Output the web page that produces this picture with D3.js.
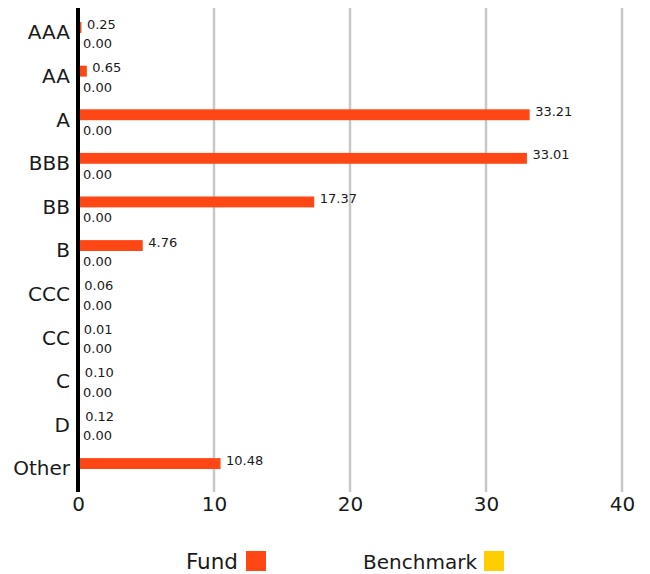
<!DOCTYPE html>
<html>
<head>
<meta charset="utf-8">
<script src="https://cdn.jsdelivr.net/npm/d3@7"></script>
<style>
  body { margin: 0; background: #fff; }
  text { font-family: "DejaVu Sans", sans-serif; fill: #1a1a1a; }
</style>
</head>
<body>
<div id="plot"></div>
<script>
var ratings = ["AAA", "AA", "A", "BBB", "BB", "B", "CCC", "CC", "C", "D", "Other"];
var fund = [0.25, 0.65, 33.21, 33.01, 17.37, 4.76, 0.06, 0.01, 0.10, 0.12, 10.48];
var benchmark = [0, 0, 0, 0, 0, 0, 0, 0, 0, 0, null];
var xTicks = [0, 10, 20, 30, 40];

const w = 650;
const h = 574;
const fundColor = "#ff4716";
const benchColor = "#ffce00";
const font = "'DejaVu Sans', sans-serif";

const rows = ratings.map((r, i) => ({ rating: r, fund: fund[i], benchmark: benchmark[i] }));
const benchRows = rows.filter(d => d.benchmark !== null);

const svg = d3.select("div#plot")
  .append("svg")
  .attr("width", w)
  .attr("height", h);

const xScale = d3.scaleLinear().domain([0, 40]).range([78, 622]);
const yScale = d3.scaleBand()
  .domain(ratings)
  .range([11.2, 490.8])
  .paddingInner(0.5)
  .paddingOuter(0.25);
const bh = yScale.bandwidth() / 2;

// grid lines
svg.append("g")
  .selectAll("line")
  .data(xTicks.slice(1))
  .enter()
  .append("line")
  .attr("x1", d => xScale(d))
  .attr("x2", d => xScale(d))
  .attr("y1", 8)
  .attr("y2", 492)
  .attr("stroke", "#c8c8c8")
  .attr("stroke-width", 2.5);

// x axis labels
const xAxis = d3.axisBottom(xScale).tickValues(xTicks).tickSize(0).tickPadding(5);
const xg = svg.append("g")
  .attr("transform", "translate(0, 492)")
  .call(xAxis);
xg.select(".domain").remove();
xg.selectAll("text")
  .style("font-size", "20px")
  .style("font-family", font)
  .attr("fill", "#1a1a1a");

// y axis labels
const yAxis = d3.axisLeft(yScale).tickSize(0).tickPadding(8);
const yg = svg.append("g")
  .attr("transform", "translate(78, 0)")
  .call(yAxis);
yg.select(".domain").remove();
yg.selectAll("text")
  .style("font-size", "20px")
  .style("font-family", font)
  .attr("fill", "#1a1a1a");

// bars
svg.selectAll(".fund-bar")
  .data(rows)
  .enter()
  .append("rect")
  .attr("class", "fund-bar")
  .attr("x", xScale(0))
  .attr("y", d => yScale(d.rating))
  .attr("width", d => xScale(d.fund) - xScale(0))
  .attr("height", bh)
  .attr("fill", fundColor);

svg.selectAll(".bench-bar")
  .data(benchRows)
  .enter()
  .append("rect")
  .attr("class", "bench-bar")
  .attr("x", xScale(0))
  .attr("y", d => yScale(d.rating) + bh)
  .attr("width", d => xScale(d.benchmark) - xScale(0))
  .attr("height", bh)
  .attr("fill", benchColor);

// value labels
svg.selectAll(".fund-label")
  .data(rows)
  .enter()
  .append("text")
  .attr("class", "fund-label")
  .attr("x", d => xScale(d.fund) + 5.5)
  .attr("y", d => yScale(d.rating) + bh / 2 + 1)
  .style("font-size", "13px")
  .text(d => d.fund.toFixed(2));

svg.selectAll(".bench-label")
  .data(benchRows)
  .enter()
  .append("text")
  .attr("class", "bench-label")
  .attr("x", d => xScale(d.benchmark) + 5)
  .attr("y", d => yScale(d.rating) + bh * 1.5 + 9.5)
  .style("font-size", "13px")
  .text(d => d.benchmark.toFixed(2));

// axis line
svg.append("line")
  .attr("x1", xScale(0))
  .attr("x2", xScale(0))
  .attr("y1", 8)
  .attr("y2", 492)
  .attr("stroke", "#000")
  .attr("stroke-width", 4);

// legend
const legend = svg.append("g");
legend.append("text")
  .attr("x", 238)
  .attr("y", 568.5)
  .attr("text-anchor", "end")
  .style("font-size", "21.5px")
  .text("Fund");
legend.append("rect")
  .attr("x", 246).attr("y", 551)
  .attr("width", 20).attr("height", 20)
  .attr("fill", fundColor);
legend.append("text")
  .attr("x", 477)
  .attr("y", 568.5)
  .attr("text-anchor", "end")
  .style("font-size", "20px")
  .text("Benchmark");
legend.append("rect")
  .attr("x", 484).attr("y", 551)
  .attr("width", 20).attr("height", 20)
  .attr("fill", benchColor);
</script>
</body>
</html>
